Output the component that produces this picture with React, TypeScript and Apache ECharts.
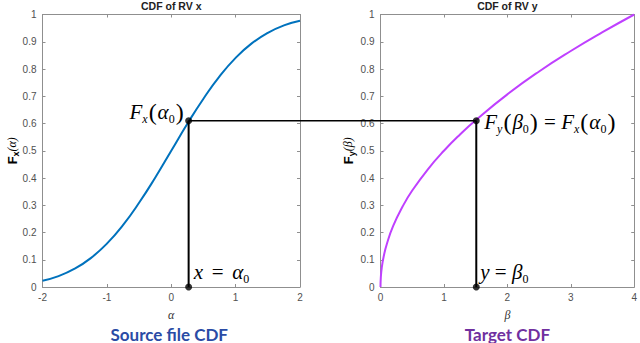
import React, { useEffect, useRef } from 'react';
import * as echarts from 'echarts';

// Left plot: CDF of RV x
const alphaValues = [-2, -1.75, -1.5, -1.25, -1, -0.75, -0.5, -0.25, 0, 0.25, 0.5, 0.75, 1, 1.25, 1.5, 1.75, 2];
const cdfXValues = [0.023, 0.04, 0.067, 0.106, 0.159, 0.227, 0.309, 0.401, 0.5, 0.599, 0.691, 0.773, 0.841, 0.894, 0.933, 0.96, 0.977];

// Right plot: CDF of RV y
const betaValues = [0, 0.005, 0.02, 0.05, 0.1, 0.2, 0.35, 0.5, 0.75, 1, 1.25, 1.5, 2, 2.5, 3, 3.5, 4];
const cdfYValues = [0, 0.035, 0.071, 0.112, 0.158, 0.224, 0.296, 0.354, 0.433, 0.5, 0.559, 0.612, 0.707, 0.791, 0.866, 0.935, 1.0];

// Mapping point
const alpha0 = 0.27;
const beta0 = 1.51;
const level0 = 0.61;

const titles = ['CDF of RV x', 'CDF of RV y'];
const captions = ['Source file CDF', 'Target CDF'];

export default function App() {
  const ref = useRef<HTMLDivElement>(null);
  useEffect(() => {
    document.body.style.margin = '0';
    const chart = echarts.init(ref.current!, null, { renderer: 'svg' });
    const frame = '#8f8f8f';
    const labelStyle = { color: '#505050', fontSize: 10, fontFamily: 'Liberation Sans, Arial, sans-serif', margin: 5 };
    const mkX = (gridIndex: number, min: number, max: number, position: string) => ({
      type: 'value', gridIndex, min, max, interval: 1, position,
      axisLine: { show: true, onZero: false, lineStyle: { color: frame, width: 1 } },
      axisTick: { show: true, inside: true, length: 3, lineStyle: { color: frame } },
      axisLabel: position === 'bottom' ? { ...labelStyle, showMinLabel: true, showMaxLabel: true } : { show: false },
      splitLine: { show: false },
    });
    const mkY = (gridIndex: number, position: string) => ({
      type: 'value', gridIndex, min: 0, max: 1, interval: 0.1, position,
      axisLine: { show: true, onZero: false, lineStyle: { color: frame, width: 1 } },
      axisTick: { show: true, inside: true, length: 3, lineStyle: { color: frame } },
      axisLabel: position === 'left' ? { ...labelStyle, margin: 6 } : { show: false },
      splitLine: { show: false },
    });
    const leftData = alphaValues.map((a, i) => [a, cdfXValues[i]]);
    const rightData = betaValues.map((b, i) => [b, cdfYValues[i]]);
    chart.setOption({
      animation: false,
      grid: [
        { left: 42.5, right: 340, top: 14.5, bottom: 56 },
        { left: 380.5, right: 3, top: 14.5, bottom: 56 },
      ],
      xAxis: [mkX(0, -2, 2, 'bottom'), mkX(0, -2, 2, 'top'), mkX(1, 0, 4, 'bottom'), mkX(1, 0, 4, 'top')],
      yAxis: [mkY(0, 'left'), mkY(0, 'right'), mkY(1, 'left'), mkY(1, 'right')],
      series: [
        { type: 'line', xAxisIndex: 0, yAxisIndex: 0, data: leftData, smooth: true, showSymbol: false,
          lineStyle: { color: '#0072BD', width: 2 } },
        { type: 'line', xAxisIndex: 2, yAxisIndex: 2, data: rightData, smooth: true, showSymbol: false,
          lineStyle: { color: '#BF40FF', width: 2 } },
        { type: 'line', xAxisIndex: 0, yAxisIndex: 0, data: [[alpha0, 0], [alpha0, level0]], showSymbol: false,
          lineStyle: { color: '#000', width: 2 }, z: 5 },
        { type: 'line', xAxisIndex: 2, yAxisIndex: 2, data: [[beta0, 0], [beta0, level0]], showSymbol: false,
          lineStyle: { color: '#000', width: 2 }, z: 5 },
        { type: 'scatter', xAxisIndex: 0, yAxisIndex: 0, data: [[alpha0, level0], [alpha0, 0]], symbolSize: 7,
          itemStyle: { color: '#000' }, clip: false, z: 10 },
        { type: 'scatter', xAxisIndex: 2, yAxisIndex: 2, data: [[beta0, level0], [beta0, 0]], symbolSize: 7,
          itemStyle: { color: '#000' }, clip: false, z: 10 },
      ],
    });

    const p1 = chart.convertToPixel({ xAxisIndex: 0, yAxisIndex: 0 }, [alpha0, level0]) as number[];
    const p2 = chart.convertToPixel({ xAxisIndex: 2, yAxisIndex: 2 }, [beta0, level0]) as number[];
    const b1 = chart.convertToPixel({ xAxisIndex: 0, yAxisIndex: 0 }, [alpha0, 0]) as number[];
    const b2 = chart.convertToPixel({ xAxisIndex: 2, yAxisIndex: 2 }, [beta0, 0]) as number[];
    const cL = chart.convertToPixel({ xAxisIndex: 0, yAxisIndex: 0 }, [0, 0.5]) as number[];
    const cR = chart.convertToPixel({ xAxisIndex: 2, yAxisIndex: 2 }, [2, 0.5]) as number[];

    const serif = 'Liberation Serif, Times New Roman, serif';
    const rich = {
      i: { fontFamily: serif, fontStyle: 'italic', fontSize: 21, lineHeight: 26, color: '#000' },
      s: { fontFamily: serif, fontStyle: 'italic', fontSize: 12, lineHeight: 12, verticalAlign: 'bottom', color: '#000' },
      n: { fontFamily: serif, fontSize: 12, lineHeight: 12, verticalAlign: 'bottom', color: '#000' },
      p: { fontFamily: serif, fontSize: 24, lineHeight: 26, color: '#000', padding: [0, 1, 0, 1] },
      e: { fontFamily: serif, fontSize: 21, lineHeight: 26, color: '#000' },
      t: { fontFamily: serif, fontSize: 14, lineHeight: 26, color: '#000' },
    };
    const yrich = {
      b: { fontFamily: 'Liberation Sans, Arial, sans-serif', fontWeight: 'bold', fontSize: 13, lineHeight: 16, color: '#222' },
      bs: { fontFamily: 'Liberation Sans, Arial, sans-serif', fontWeight: 'bold', fontSize: 9, lineHeight: 9, verticalAlign: 'bottom', color: '#222' },
      g: { fontFamily: serif, fontStyle: 'italic', fontSize: 12, lineHeight: 16, color: '#333' },
    };
    const captionFont = 'Lato, Open Sans, sans-serif';
    const titleStyle = { fontFamily: 'Liberation Sans, Arial, sans-serif', fontWeight: 'bold', fontSize: 10.5, fill: '#222', textAlign: 'center', textVerticalAlign: 'top' };
    chart.setOption({
      graphic: [
        { type: 'line', shape: { x1: p1[0], y1: p1[1], x2: p2[0], y2: p2[1] }, style: { stroke: '#000', lineWidth: 1.5 }, z: 100 },
        { type: 'text', x: cL[0], y: 0, style: { text: titles[0], ...titleStyle } },
        { type: 'text', x: cR[0], y: 0, style: { text: titles[1], ...titleStyle } },
        { type: 'text', x: 12, y: cL[1], rotation: Math.PI / 2, style: { text: '{b|F}{bs|x}{g|(α)}', rich: yrich, textAlign: 'center', textVerticalAlign: 'middle' } },
        { type: 'text', x: 348, y: cR[1], rotation: Math.PI / 2, style: { text: '{b|F}{bs|y}{g|(β)}', rich: yrich, textAlign: 'center', textVerticalAlign: 'middle' } },
        { type: 'text', x: cL[0], y: 315, style: { text: 'α', fontFamily: serif, fontStyle: 'italic', fontSize: 12, fill: '#333', textAlign: 'center', textVerticalAlign: 'middle' } },
        { type: 'text', x: cR[0], y: 315, style: { text: 'β', fontFamily: serif, fontStyle: 'italic', fontSize: 12, fill: '#333', textAlign: 'center', textVerticalAlign: 'middle' } },
        { type: 'text', x: cL[0] - 2, y: 334, style: { text: captions[0], fontFamily: captionFont, fontWeight: 'bold', fontSize: 17, fill: '#2A4BA5', textAlign: 'center', textVerticalAlign: 'middle' } },
        { type: 'text', x: cR[0], y: 334, style: { text: captions[1], fontFamily: captionFont, fontWeight: 'bold', fontSize: 17, fill: '#7030A0', textAlign: 'center', textVerticalAlign: 'middle' } },
        { type: 'text', x: p1[0] - 4, y: p1[1] - 9, z: 50, style: { text: '{i|F}{s|x}{p|(}{i|α}{n|0}{p|)}', rich, textAlign: 'right', textVerticalAlign: 'middle' } },
        { type: 'text', x: p2[0] + 8, y: p2[1] + 1, z: 50, style: { text: '{i|F}{s|y}{p|(}{i|β}{n|0}{p|)}{e| = }{i|F}{s|x}{p|(}{i|α}{n|0}{p|)}', rich, textAlign: 'left', textVerticalAlign: 'middle' } },
        { type: 'text', x: b1[0] + 5, y: b1[1] - 15, z: 50, style: { text: '{i|x}{t| }{e| = }{t| }{i|α}{n|0}', rich, textAlign: 'left', textVerticalAlign: 'middle' } },
        { type: 'text', x: b2[0] + 4, y: b2[1] - 15, z: 50, style: { text: '{i|y}{e| = }{i|β}{n|0}', rich, textAlign: 'left', textVerticalAlign: 'middle' } },
      ],
    });
    return () => chart.dispose();
  }, []);
  return <div ref={ref} style={{ width: 640, height: 343 }} />;
}
